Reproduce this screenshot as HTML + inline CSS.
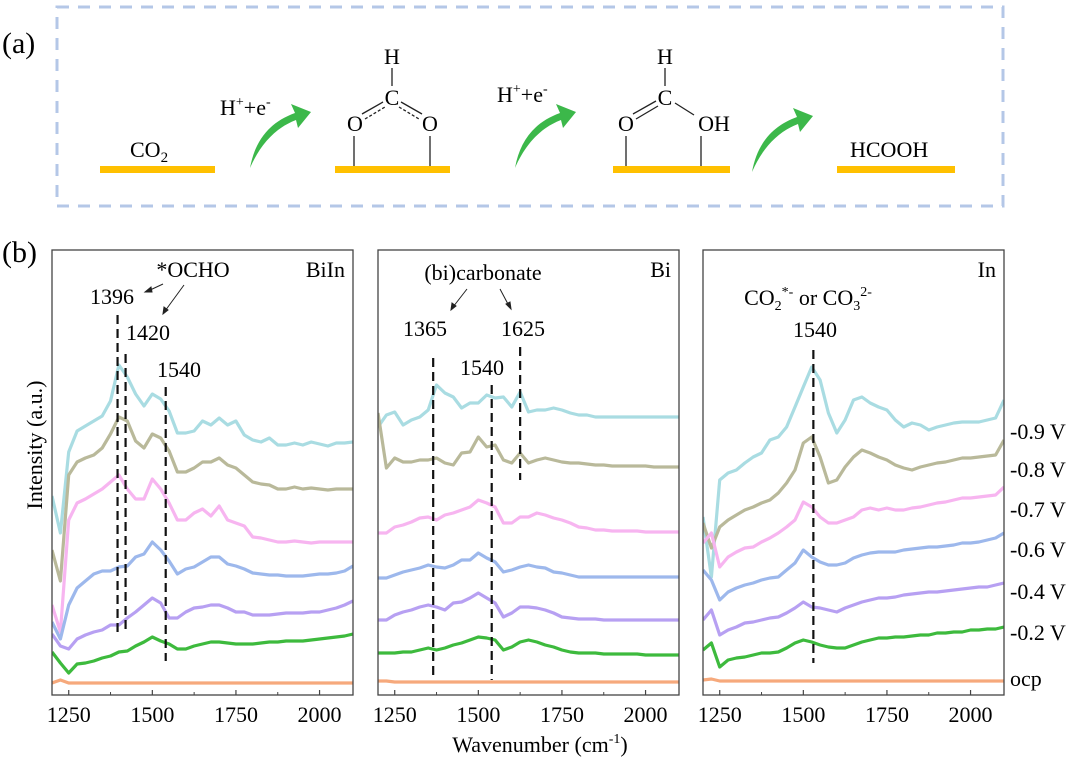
<!DOCTYPE html>
<html><head><meta charset="utf-8"><style>
html,body{margin:0;padding:0;background:#fff;}
svg, svg text{font-family:"Liberation Serif","Times New Roman",serif;}
</style></head><body>
<svg id="fig" width="1080" height="764" viewBox="0 0 1080 764" xmlns="http://www.w3.org/2000/svg" font-family="Liberation Serif, serif">
<g>
<text x="2" y="53" font-size="30">(a)</text>
<rect x="57" y="7" width="946" height="199" fill="none" stroke="#b4c7e7" stroke-width="3" stroke-dasharray="12,9"/>
<rect x="100" y="166" width="115" height="7" fill="#ffc000"/>
<text x="130" y="157" font-size="22">CO<tspan font-size="15" dy="5">2</tspan></text>
<text x="220" y="115" font-size="22">H<tspan font-size="14" dy="-9">+</tspan><tspan dy="9">+e</tspan><tspan font-size="14" dy="-9">-</tspan></text>
<path d="M250,168 C255,140 270,122 295,113 L291,104 L311,112 L298,128 L296,120 C275,128 260,145 250,168 Z" fill="#3cb84a"/>
<rect x="335" y="166" width="115" height="7" fill="#ffc000"/>
<g font-size="22" text-anchor="middle" stroke="none">
<text x="392" y="64">H</text><text x="392" y="105">C</text><text x="355" y="131">O</text><text x="430" y="131">O</text>
<line x1="392" y1="68" x2="392" y2="86" stroke="#222" stroke-width="1.3"/>
<line x1="362" y1="114" x2="383" y2="102" stroke="#222" stroke-width="1.3"/>
<line x1="365" y1="119" x2="385" y2="107" stroke="#222" stroke-width="1.3" stroke-dasharray="3,2"/>
<line x1="401" y1="102" x2="422" y2="114" stroke="#222" stroke-width="1.3"/>
<line x1="399" y1="107" x2="419" y2="119" stroke="#222" stroke-width="1.3" stroke-dasharray="3,2"/>
<line x1="354" y1="136" x2="354" y2="166" stroke="#222" stroke-width="1.3"/>
<line x1="430" y1="136" x2="430" y2="166" stroke="#222" stroke-width="1.3"/>
</g>
<text x="497" y="102" font-size="22">H<tspan font-size="14" dy="-9">+</tspan><tspan dy="9">+e</tspan><tspan font-size="14" dy="-9">-</tspan></text>
<path d="M515,168 C520,140 535,122 560,113 L556,104 L576,112 L563,128 L561,120 C540,128 525,145 515,168 Z" fill="#3cb84a"/>
<rect x="613" y="166" width="117" height="7" fill="#ffc000"/>
<g font-size="22" text-anchor="middle">
<text x="665" y="64">H</text><text x="665" y="105">C</text><text x="626" y="131">O</text><text x="714" y="131">OH</text>
<line x1="665" y1="68" x2="665" y2="86" stroke="#222" stroke-width="1.3"/>
<line x1="633" y1="114" x2="656" y2="101" stroke="#222" stroke-width="1.3"/>
<line x1="636" y1="119" x2="658" y2="106" stroke="#222" stroke-width="1.3"/>
<line x1="675" y1="103" x2="694" y2="115" stroke="#222" stroke-width="1.3"/>
<line x1="626" y1="136" x2="626" y2="166" stroke="#222" stroke-width="1.3"/>
<line x1="701" y1="136" x2="701" y2="166" stroke="#222" stroke-width="1.3"/>
</g>
<path d="M752,172 C757,144 772,126 797,117 L793,108 L813,116 L800,132 L798,124 C777,132 762,149 752,172 Z" fill="#3cb84a"/>
<rect x="837" y="166" width="118" height="7" fill="#ffc000"/>
<text x="850" y="157" font-size="22">HCOOH</text>
</g>
<text x="2" y="262" font-size="30">(b)</text>
<text transform="translate(42,445) rotate(-90)" text-anchor="middle" font-size="22">Intensity (a.u.)</text>
<text x="540" y="752" text-anchor="middle" font-size="22">Wavenumber (cm<tspan font-size="14" dy="-9">-1</tspan><tspan dy="9">)</tspan></text>
<g id="plots"></g>
<g font-size="22">
<text x="1010" y="439">-0.9 V</text>
<text x="1010" y="477">-0.8 V</text>
<text x="1010" y="517">-0.7 V</text>
<text x="1010" y="557">-0.6 V</text>
<text x="1010" y="599">-0.4 V</text>
<text x="1010" y="640">-0.2 V</text>
<text x="1010" y="686">ocp</text>
</g>
<g font-size="22">
<text x="345" y="277" text-anchor="end">BiIn</text>
<text x="193" y="277" text-anchor="middle">*OCHO</text>
<text x="112" y="304" text-anchor="middle">1396</text>
<text x="148" y="340" text-anchor="middle">1420</text>
<text x="179" y="377" text-anchor="middle">1540</text>
<text x="671" y="277" text-anchor="end">Bi</text>
<text x="483" y="280" text-anchor="middle">(bi)carbonate</text>
<text x="425" y="336" text-anchor="middle">1365</text>
<text x="523" y="336" text-anchor="middle">1625</text>
<text x="482" y="375" text-anchor="middle">1540</text>
<text x="996" y="277" text-anchor="end">In</text>
<text x="808" y="305" text-anchor="middle">CO<tspan font-size="14" dy="5">2</tspan><tspan font-size="14" dy="-14">*-</tspan><tspan dy="9"> or CO</tspan><tspan font-size="14" dy="5">3</tspan><tspan font-size="14" dy="-14">2-</tspan></text>
<text x="815" y="337" text-anchor="middle">1540</text>
<g stroke="#222" stroke-width="1" fill="#222">
<line x1="163" y1="284" x2="148" y2="291"/><polygon points="145,292 151,287 152,292"/>
<line x1="184" y1="285" x2="165" y2="311"/><polygon points="163,314 164,307 168,310"/>
<line x1="467" y1="289" x2="453" y2="307"/><polygon points="451,310 452,303 456,306"/>
<line x1="500" y1="289" x2="509" y2="306"/><polygon points="511,309 506,304 510,302"/>
</g>
</g>
</svg>
<script>
const wavenumbers=[1200,1225,1250,1275,1300,1325,1350,1375,1400,1425,1450,1475,1500,1525,1550,1575,1600,1625,1650,1675,1700,1725,1750,1775,1800,1825,1850,1875,1900,1925,1950,1975,2000,2025,2050,2075,2100];
const xTicks=[1250,1500,1750,2000];
const xMinorTicks=[1375,1625,1875];
const seriesNames=["-0.9 V","-0.8 V","-0.7 V","-0.6 V","-0.4 V","-0.2 V","ocp"];
const seriesColors=["#a9dce2","#b9b99a","#f7b5f0","#9db8ec","#b7a0f2","#3dba3d","#f6a97c"];
// BiIn panel
const biin_m09=[199,162,243,264,269,274,279,294,330,318,301,289,301,296,284,262,262,264,274,270,277,270,274,260,255,253,257,250,250,252,250,253,251,249,252,252,253];
const biin_m08=[145,114,220,233,237,240,247,261,278,274,254,247,261,257,244,223,223,227,233,233,237,230,227,220,213,211,210,206,206,208,206,207,206,205,206,206,206];
const biin_m07=[90,63,175,192,196,201,206,213,220,206,196,196,216,206,192,175,175,182,186,179,189,175,172,169,158,157,155,153,153,154,153,152,153,153,153,153,153];
const biin_m06=[73,56,90,107,114,121,124,124,128,129,138,141,153,145,134,121,126,128,133,138,138,131,129,126,122,121,120,120,119,119,119,120,121,121,122,124,129];
const biin_m04=[61,49,46,56,60,63,65,70,70,77,83,90,97,92,77,77,83,87,88,90,90,87,83,83,80,80,80,81,82,82,82,83,83,85,87,90,94];
const biin_m02=[43,32,22,31,32,34,37,39,43,44,49,53,58,54,51,46,46,49,51,53,53,52,51,51,51,52,53,53,54,54,54,55,56,57,58,59,61];
const biin_ocp=[12,15,12,12,12,12,12,12,12,12,12,12,12,12,12,12,12,12,12,12,12,12,12,12,12,12,12,12,12,12,12,12,12,12,12,12,12];
// Bi panel
const bi_m09=[268,280,283,270,275,278,285,310,302,298,287,292,292,300,297,298,288,303,283,285,285,287,285,282,280,280,278,278,278,278,278,278,278,278,278,278,278];
const bi_m08=[282,227,237,233,233,235,235,237,232,230,242,243,258,248,250,235,232,242,232,235,237,235,233,232,232,231,230,230,229,229,229,229,229,228,228,228,228];
const bi_m07=[162,162,168,170,173,177,178,175,180,182,185,188,195,192,188,172,172,178,178,182,180,177,175,172,168,167,165,165,164,164,164,164,163,163,163,163,163];
const bi_m06=[117,117,120,123,125,127,130,128,127,130,135,135,142,137,133,123,125,128,130,128,127,123,122,120,118,118,118,118,118,118,118,118,118,118,118,118,118];
const bi_m04=[75,75,80,83,85,88,90,88,85,92,93,97,102,97,92,78,82,88,88,87,85,82,78,77,76,76,76,75,75,75,75,75,75,75,75,75,75];
const bi_m02=[42,42,42,43,43,45,47,45,47,50,52,55,58,57,55,45,48,53,55,53,50,48,45,43,42,42,42,41,41,41,41,41,40,40,40,40,40];
const bi_ocp=[14,14,13,13,13,13,13,13,13,13,13,13,13,13,13,13,13,13,13,13,13,13,13,13,13,13,13,13,13,13,13,13,13,13,13,13,13];
// In panel
const in_m09=[178,118,215,222,225,232,238,242,255,258,268,288,308,328,315,282,262,275,295,298,292,288,285,275,268,272,270,265,268,270,272,273,273,273,275,277,295];
const in_m08=[172,147,168,175,180,185,188,192,195,202,212,225,252,258,238,212,215,228,238,245,242,238,235,230,227,225,228,230,232,233,235,237,237,238,239,240,255];
const in_m07=[152,162,128,138,143,147,148,153,157,162,168,175,193,188,178,172,172,175,178,185,187,185,187,185,185,187,188,190,192,193,195,197,197,198,199,200,208];
const in_m06=[125,115,95,103,107,110,112,115,117,118,125,132,145,138,133,130,130,132,137,140,142,143,143,143,145,146,147,148,148,149,150,152,152,153,155,157,162];
const in_m04=[75,85,60,65,68,72,73,75,77,78,82,87,93,88,87,85,83,87,90,93,95,97,97,98,100,101,102,103,103,104,105,106,107,108,108,110,112];
const in_m02=[45,52,28,35,37,38,40,42,42,43,47,52,55,53,50,48,47,47,50,53,55,57,57,58,58,59,60,60,62,62,63,63,65,65,66,66,68];
const in_ocp=[15,16,14,14,14,14,14,14,14,14,14,14,14,14,14,14,14,14,14,14,14,14,14,14,14,14,14,14,14,14,14,14,14,14,14,14,14];
const peaks_biin=[1396,1420,1540];
const peaks_bi=[1365,1540,1625];
const peaks_in=[1530];

const NS="http://www.w3.org/2000/svg";
const TOP=250,BOTTOM=695,W=301,XMIN=1200,XMAX=2100;
const panels=[
 {name:"biin",left:52,series:[biin_m09,biin_m08,biin_m07,biin_m06,biin_m04,biin_m02,biin_ocp],peaks:peaks_biin,pk:[[315,632],[354,632],[387,661]]},
 {name:"bi",left:378,series:[bi_m09,bi_m08,bi_m07,bi_m06,bi_m04,bi_m02,bi_ocp],peaks:peaks_bi,pk:[[358,675],[385,680],[347,480]]},
 {name:"in",left:703,series:[in_m09,in_m08,in_m07,in_m06,in_m04,in_m02,in_ocp],peaks:peaks_in,pk:[[350,663]]}
];
const root=document.getElementById('plots');
function mk(t,a,p){const e=document.createElementNS(NS,t);for(const k in a)e.setAttribute(k,a[k]);(p||root).appendChild(e);return e;}
panels.forEach(function(P){
 const xs=w=>P.left+(w-XMIN)*W/(XMAX-XMIN);
 const ys=v=>BOTTOM-v;
 const g=mk('g',{});
 
 
 const cp=mk('clipPath',{id:'clip-'+P.name},g);
 mk('rect',{x:P.left,y:TOP,width:W,height:BOTTOM-TOP},cp);
 P.series.forEach(function(s,i){
  let d='';
  s.forEach((v,j)=>{d+=(j?'L':'M')+xs(wavenumbers[j]).toFixed(1)+','+ys(v).toFixed(1);});
  const p=mk('path',{d:d,fill:'none',stroke:seriesColors[i],'stroke-width':3.2,'stroke-linejoin':'round','clip-path':'url(#clip-'+P.name+')'},g);
  
  
 });
 P.peaks.forEach(function(w,i){
  const l=mk('line',{x1:xs(w),x2:xs(w),y1:P.pk[i][0],y2:P.pk[i][1],stroke:'#111','stroke-width':2.2,'stroke-dasharray':'9,5'},g);
  
  
 });
 const fr=mk('rect',{x:P.left,y:TOP,width:W,height:BOTTOM-TOP,fill:'none',stroke:'#444','stroke-width':1.3},g);
 
 
 xTicks.forEach(function(t){
  mk('line',{x1:xs(t),x2:xs(t),y1:BOTTOM,y2:BOTTOM-5,stroke:'#444','stroke-width':1.2},g);
  const tx=mk('text',{x:xs(t),y:BOTTOM+27,'text-anchor':'middle','font-size':22},g);
  tx.textContent=t;
  
  
 });
 xMinorTicks.forEach(function(t){
  mk('line',{x1:xs(t),x2:xs(t),y1:BOTTOM,y2:BOTTOM-3,stroke:'#444','stroke-width':1},g);
 });
});
</script>
</body></html>
